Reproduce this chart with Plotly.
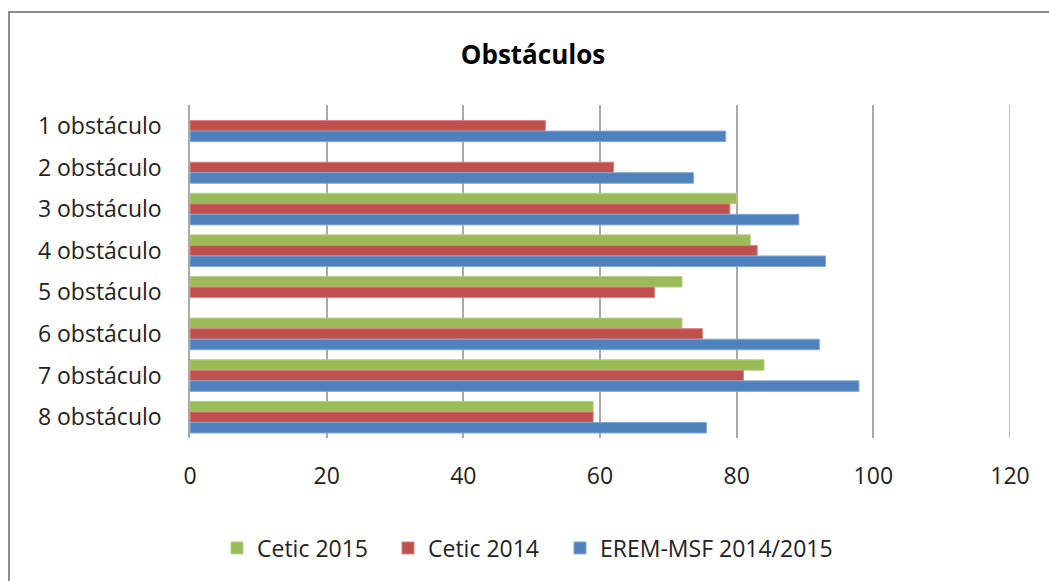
import plotly.graph_objects as go

categories = ["1 obstáculo", "2 obstáculo", "3 obstáculo", "4 obstáculo",
              "5 obstáculo", "6 obstáculo", "7 obstáculo", "8 obstáculo"]
cetic_2015 = [None, None, 80, 82, 72, 72, 84, 59]
cetic_2014 = [52, 62, 79, 83, 68, 75, 81, 59]
erem_msf = [78.4, 73.7, 89.1, 93.0, None, 92.1, 97.9, 75.6]
x_ticks = [0, 20, 40, 60, 80, 100, 120]

series = [
    ("Cetic 2015", cetic_2015, "#9BBB59", "#B7CF86"),
    ("Cetic 2014", cetic_2014, "#C0504D", "#D8847F"),
    ("EREM-MSF 2014/2015", erem_msf, "#4F81BD", "#86A8D3"),
]
# left edge (px) of each legend entry along the bottom row
legend_left = [217, 388, 560]

W, H = 1049, 581
L, R, T, B = 190, 1010, 105, 438

font = "'Open Sans', sans-serif"
grid_col = "#A9A9A9"

fig = go.Figure()
legend_layout = {}
for i, (name, vals, col, edge) in enumerate(series):
    key = "legend" if i == 0 else f"legend{i + 1}"
    fig.add_trace(go.Bar(
        y=categories, x=vals, name=name, orientation="h", legend=key,
        showlegend=True,
        marker=dict(color=col, line=dict(color=edge, width=1)),
    ))
    legend_layout[key] = dict(
        orientation="h", xref="container", yref="container",
        x=legend_left[i] / W, y=1 - 548 / H, xanchor="left", yanchor="middle",
        font=dict(family=font, size=23, color="#222222"), itemwidth=30,
        bgcolor="rgba(0,0,0,0)",
    )

# paper coordinates of the outer chart frame (left and top edges)
fx = (9 - L) / (R - L)
fy = (B - 12) / (B - T)
fy_bottom = (B - 600) / (B - T)
fx_right = (1060 - L) / (R - L)

fig.update_layout(
    width=W, height=H,
    margin=dict(l=L, r=W - R, t=T, b=H - B),
    paper_bgcolor="white", plot_bgcolor="white",
    showlegend=True,
    barmode="group", bargap=0.24, bargroupgap=0,
    font=dict(family=font, size=23, color="#222222"),
    title=dict(text="<b>Obstáculos</b>", x=533 / W, xref="container",
               y=1 - 55 / H, yref="container", xanchor="center", yanchor="middle",
               font=dict(family=font, size=26, color="#000000")),
    xaxis=dict(range=[0, 120], tickvals=x_ticks, showgrid=True,
               gridcolor=grid_col, gridwidth=1.5, zeroline=False,
               showline=False, ticks="", ticklabelstandoff=22,
               tickfont=dict(size=23, color="#222222")),
    yaxis=dict(autorange="reversed", showline=True, linecolor=grid_col,
               linewidth=1.5, ticks="", ticklabelstandoff=22,
               tickfont=dict(size=23, color="#222222")),
    shapes=[
        # outer chart frame
        dict(type="path", xref="paper", yref="paper",
             path=f"M {fx},{fy_bottom} L {fx},{fy} L {fx_right},{fy}",
             line=dict(color="#8C8C8C", width=2)),
        # gridline at the right end of the value axis
        dict(type="line", xref="x", yref="paper", x0=x_ticks[-1], x1=x_ticks[-1],
             y0=0, y1=1, line=dict(color=grid_col, width=1.5), layer="below"),
    ],
    **legend_layout,
)

fig.write_html("out.html")
